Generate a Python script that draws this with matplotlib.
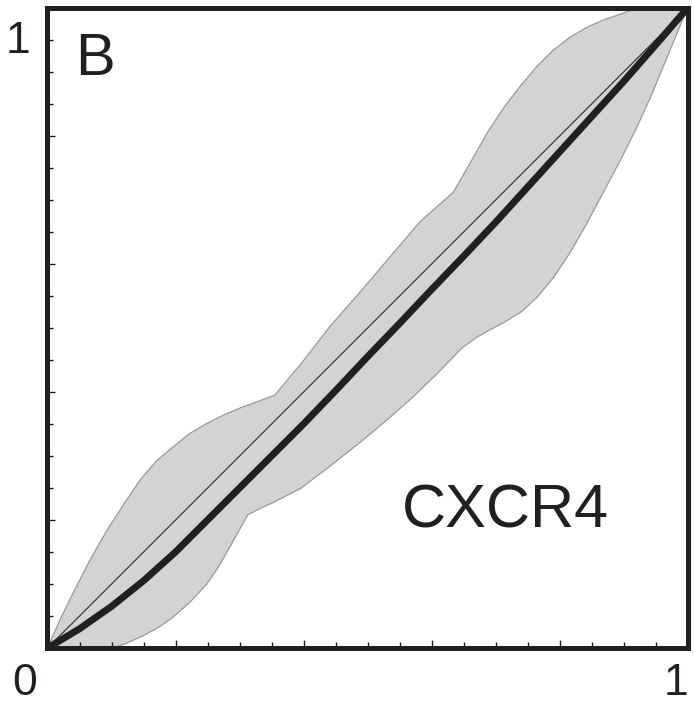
import numpy as np
import matplotlib.pyplot as plt

# band (upper / lower envelope)
upper_x = [0.0, 0.02, 0.04, 0.065, 0.093, 0.12, 0.145, 0.17, 0.196, 0.222, 0.249, 0.275,
           0.301, 0.328, 0.355, 0.40, 0.441, 0.49, 0.535, 0.582, 0.634, 0.66, 0.687,
           0.712, 0.738, 0.764, 0.790, 0.816, 0.843, 0.87, 0.90, 0.92, 1.0]
upper_y = [0.0, 0.045, 0.086, 0.135, 0.184, 0.226, 0.263, 0.292, 0.314, 0.335, 0.351, 0.364,
           0.375, 0.385, 0.395, 0.449, 0.502, 0.558, 0.611, 0.666, 0.712, 0.757, 0.805,
           0.843, 0.877, 0.908, 0.934, 0.954, 0.970, 0.982, 0.992, 1.0, 1.0]
lower_x = [0.0, 0.10, 0.12, 0.145, 0.17, 0.196, 0.222, 0.249, 0.268, 0.285, 0.30, 0.313,
           0.33, 0.352, 0.395, 0.44, 0.493, 0.53, 0.571, 0.61, 0.649, 0.67, 0.691, 0.712,
           0.74, 0.765, 0.79, 0.816, 0.842, 0.868, 0.895, 0.921, 0.942, 0.962, 0.98, 1.0]
lower_y = [0.0, 0.0, 0.006, 0.017, 0.030, 0.048, 0.071, 0.100, 0.128, 0.158, 0.185, 0.208,
           0.217, 0.227, 0.249, 0.283, 0.325, 0.356, 0.392, 0.430, 0.470, 0.485, 0.497, 0.508,
           0.525, 0.548, 0.578, 0.617, 0.662, 0.711, 0.762, 0.814, 0.860, 0.908, 0.952, 1.0]

# thick curve
mean_x = [0.0, 0.05, 0.1, 0.15, 0.2, 0.25, 0.3, 0.35, 0.4, 0.45, 0.5, 0.55, 0.6, 0.65,
          0.7, 0.75, 0.8, 0.85, 0.9, 0.95, 1.0]
mean_y = [0.0, 0.03, 0.065, 0.105, 0.15, 0.2, 0.25, 0.3, 0.35, 0.402, 0.455, 0.507, 0.56,
          0.612, 0.665, 0.72, 0.775, 0.83, 0.885, 0.942, 1.0]

# reference diagonal
diag = [0.0, 1.0]

panel_label = "B"
gene_label = "CXCR4"
ink = "#231f20"

plt.rcParams['font.family'] = ['Liberation Sans', 'DejaVu Sans']

fig = plt.figure(figsize=(6.94, 7.04), dpi=100)
ax = fig.add_axes([47.5 / 694, (704 - 648) / 704, 640 / 694, 640 / 704])

poly_x = list(upper_x) + list(lower_x[::-1])
poly_y = list(upper_y) + list(lower_y[::-1])
ax.fill(poly_x, poly_y, facecolor="#d1d3d4", edgecolor="#9a9a9a", linewidth=0.9, zorder=1)
ax.plot(diag, diag, color="#3a3a3a", linewidth=0.9, zorder=2)
ax.plot(mean_x, mean_y, color=ink, linewidth=5.0, solid_capstyle="butt",
        solid_joinstyle="round", zorder=3)

ax.set_xlim(0, 1)
ax.set_ylim(0, 1)
for s in ax.spines.values():
    s.set_linewidth(3.6)
    s.set_color(ink)
    s.set_zorder(5)

ticks = np.arange(0.2, 0.81, 0.2)
minor = np.arange(0.05, 0.96, 0.05)
ax.set_xticks(ticks)
ax.set_yticks(ticks)
ax.set_xticks(minor, minor=True)
ax.set_yticks(minor, minor=True)
ax.set_xticklabels([])
ax.set_yticklabels([])
ax.tick_params(which="major", direction="in", length=5.8, width=1.0, color=ink)
ax.tick_params(which="minor", direction="in", length=4.0, width=1.0, color=ink)

ax.text(-0.035, -0.073, "0", transform=ax.transAxes, ha="center", va="baseline",
        fontsize=32, color=ink)
ax.text(1.001, -0.073, "1", transform=ax.transAxes, ha="right", va="baseline",
        fontsize=32, color=ink)
ax.text(-0.027, 0.93, "1", transform=ax.transAxes, ha="right", va="baseline",
        fontsize=32, color=ink)
ax.text(0.043, 0.895, panel_label, transform=ax.transAxes, ha="left", va="baseline",
        fontsize=43, color=ink)
ax.text(0.554, 0.1875, gene_label, transform=ax.transAxes, ha="left", va="baseline",
        fontsize=44, color=ink)

fig.savefig("out.png", dpi=100)
